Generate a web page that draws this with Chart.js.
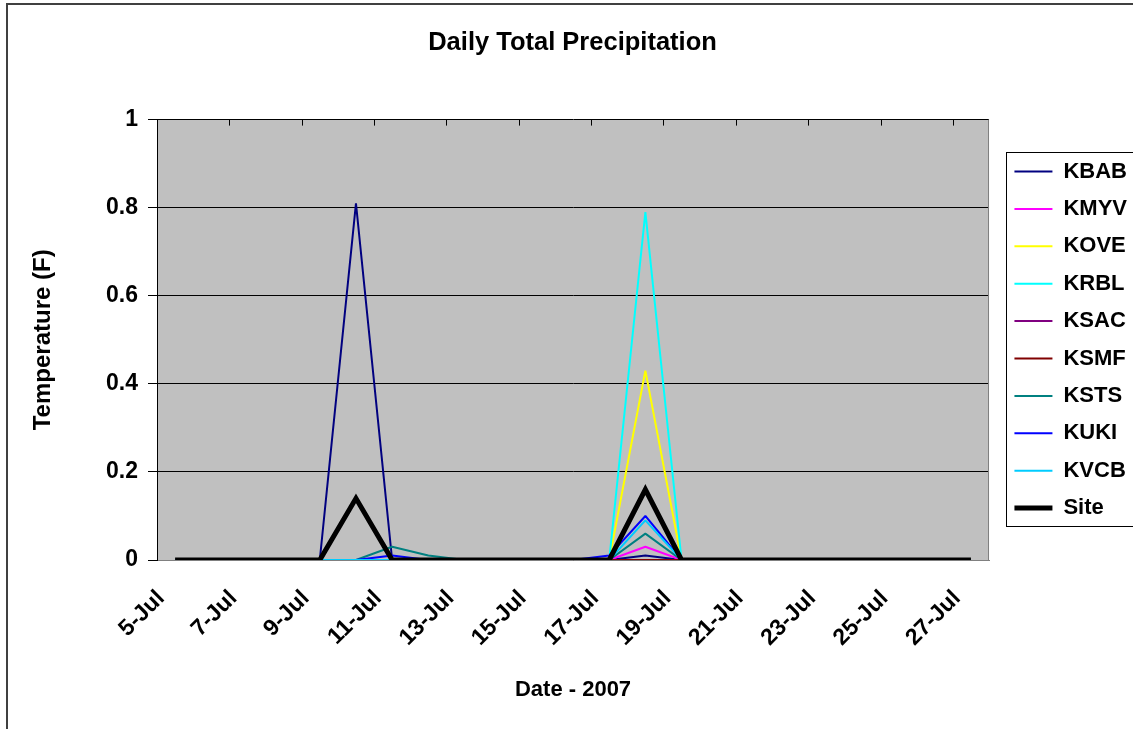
<!DOCTYPE html>
<html>
<head>
<meta charset="utf-8">
<title>Daily Total Precipitation</title>
<script src="https://cdn.jsdelivr.net/npm/chart.js@4.4.1/dist/chart.umd.min.js"></script>
<style>
  html, body { margin: 0; padding: 0; background: #fff; overflow: hidden; }
  #frame { position: absolute; left: 6px; top: 3px; width: 1140px; height: 740px; border: 2px solid #404040; }
  canvas { display: block; }
</style>
</head>
<body>
<div id="frame"><canvas id="chart" width="1140" height="724"></canvas></div>
<script>
// Days on the x axis (5-Jul .. 27-Jul)
const dates = ['5-Jul', '6-Jul', '7-Jul', '8-Jul', '9-Jul', '10-Jul', '11-Jul', '12-Jul',
  '13-Jul', '14-Jul', '15-Jul', '16-Jul', '17-Jul', '18-Jul', '19-Jul', '20-Jul',
  '21-Jul', '22-Jul', '23-Jul', '24-Jul', '25-Jul', '26-Jul', '27-Jul'];

// Daily totals per station
const kbab = [0, 0, 0, 0, 0, 0.81, 0, 0, 0, 0, 0, 0, 0, 0.01, 0, 0, 0, 0, 0, 0, 0, 0, 0];
const kmyv = [0, 0, 0, 0, 0, 0, 0, 0, 0, 0, 0, 0, 0, 0.03, 0, 0, 0, 0, 0, 0, 0, 0, 0];
const kove = [0, 0, 0, 0, 0, 0, 0, 0, 0, 0, 0, 0, 0, 0.43, 0, 0, 0, 0, 0, 0, 0, 0, 0];
const krbl = [0, 0, 0, 0, 0, 0, 0, 0, 0, 0, 0, 0, 0, 0.79, 0, 0, 0, 0, 0, 0, 0, 0, 0];
const ksac = [0, 0, 0, 0, 0, 0, 0, 0, 0, 0, 0, 0, 0, 0, 0, 0, 0, 0, 0, 0, 0, 0, 0];
const ksmf = [0, 0, 0, 0, 0, 0, 0, 0, 0, 0, 0, 0, 0, 0, 0, 0, 0, 0, 0, 0, 0, 0, 0];
const ksts = [0, 0, 0, 0, 0, 0, 0.03, 0.01, 0, 0, 0, 0, 0, 0.06, 0, 0, 0, 0, 0, 0, 0, 0, 0];
const kuki = [0, 0, 0, 0, 0, 0, 0.01, 0, 0, 0, 0, 0, 0.01, 0.10, 0, 0, 0, 0, 0, 0, 0, 0, 0];
const kvcb = [0, 0, 0, 0, 0, 0, 0, 0, 0, 0, 0, 0, 0, 0.09, 0, 0, 0, 0, 0, 0, 0, 0, 0];
const site = [0, 0, 0, 0, 0, 0.14, 0, 0, 0, 0, 0, 0, 0, 0.16, 0, 0, 0, 0, 0, 0, 0, 0, 0];

const stations = ['KBAB', 'KMYV', 'KOVE', 'KRBL', 'KSAC', 'KSMF', 'KSTS', 'KUKI', 'KVCB', 'Site'];
const series = [kbab, kmyv, kove, krbl, ksac, ksmf, ksts, kuki, kvcb, site];
const colors = ['#000080', '#ff00ff', '#ffff00', '#00ffff', '#800080', '#800000', '#008080', '#0000ff', '#00ccff', '#000000'];

const family = '"Liberation Sans", Arial, sans-serif';
const font = { family: family, size: 22, weight: 'bold' };
const tickFont = { family: family, size: 23, weight: 'bold' };

// grey plot area, right edge, top tick marks and legend frame
const plotFrame = {
  id: 'plotFrame',
  beforeDraw(chart) {
    const { ctx, chartArea: a } = chart;
    ctx.save();
    ctx.fillStyle = '#c0c0c0';
    ctx.fillRect(a.left, a.top, a.right - a.left, a.bottom - a.top);
    ctx.restore();
  },
  afterDraw(chart) {
    const { ctx, chartArea: a } = chart;
    const x = chart.scales.x;
    ctx.save();
    ctx.lineWidth = 1;
    ctx.strokeStyle = '#808080';
    ctx.beginPath();
    ctx.moveTo(Math.round(a.right) - 0.5, a.top);
    ctx.lineTo(Math.round(a.right) - 0.5, a.bottom);
    ctx.stroke();

    ctx.strokeStyle = '#000';
    ctx.beginPath();
    for (let k = 1; k < dates.length - 1; k += 2) {
      const px = Math.round((x.getPixelForValue(k) + x.getPixelForValue(k + 1)) / 2) + 0.5;
      ctx.moveTo(px, a.top);
      ctx.lineTo(px, a.top + 6);
    }
    ctx.stroke();

    const hb = chart.legend.legendHitBoxes;
    if (hb && hb.length) {
      const l = Math.round(hb[0].left - 8) + 0.5;
      const t = Math.round(hb[0].top - 9) + 0.5;
      const last = hb[hb.length - 1];
      const b = Math.round(last.top + last.height + 7) + 0.5;
      const r = Math.round(Math.max(...hb.map(h => h.left + h.width)) + 12) + 0.5;
      ctx.strokeStyle = '#000';
      ctx.strokeRect(l, t, r - l, b - t);
    }
    ctx.restore();
  }
};

const datasets = stations.map(function(name, i) {
  const isSite = name === 'Site';
  return {
    label: name,
    data: series[i],
    borderColor: colors[i],
    backgroundColor: colors[i],
    borderWidth: isSite ? 5 : 2,
    borderJoinStyle: isSite ? 'miter' : 'bevel',
    pointRadius: 0,
    pointStyle: 'line',
    tension: 0,
    order: -i
  };
});

new Chart(document.getElementById('chart'), {
  type: 'line',
  data: { labels: dates, datasets: datasets },
  plugins: [plotFrame],
  options: {
    responsive: false,
    animation: false,
    layout: { padding: { left: 0, top: 0, bottom: 0, right: 11 } },
    scales: {
      x: {
        offset: true,
        grid: { display: false },
        border: { color: '#808080' },
        ticks: {
          autoSkip: false,
          minRotation: 45,
          maxRotation: 45,
          color: '#000',
          font: tickFont,
          padding: 17,
          labelOffset: -14,
          callback: function(v, i) { return i % 2 === 0 ? dates[i] : ''; }
        },
        title: { display: true, text: 'Date - 2007', color: '#000', font: font, padding: { top: 0, bottom: 26 } },
        afterFit: function(s) { s.height = 169; }
      },
      y: {
        min: 0,
        max: 1,
        grid: { color: '#000', tickColor: '#000', tickLength: 9 },
        border: { color: '#000' },
        ticks: {
          stepSize: 0.2,
          color: '#000',
          font: tickFont,
          padding: 10,
          callback: function(v) { return String(Number(v.toFixed(1))); }
        },
        title: { display: true, text: 'Temperature (F)', color: '#000', font: { family: family, size: 24, weight: 'bold' }, padding: { top: 21, bottom: 0 } },
        afterFit: function(s) { s.width = 149; }
      },
      gap: {
        type: 'linear',
        position: 'right',
        grid: { display: false },
        border: { display: false },
        ticks: { display: false },
        afterFit: function(s) { s.width = 10; }
      }
    },
    plugins: {
      title: {
        display: true,
        text: 'Daily Total Precipitation',
        color: '#000',
        font: { family: family, size: 25.5, weight: 'bold' },
        padding: { top: 23, bottom: 61 }
      },
      legend: {
        position: 'right',
        fullSize: false,
        labels: {
          usePointStyle: true,
          pointStyleWidth: 38,
          padding: 15.4,
          color: '#000',
          font: font,
          sort: function(a, b) { return a.datasetIndex - b.datasetIndex; }
        }
      },
      tooltip: { enabled: false }
    }
  }
});
</script>
</body>
</html>
